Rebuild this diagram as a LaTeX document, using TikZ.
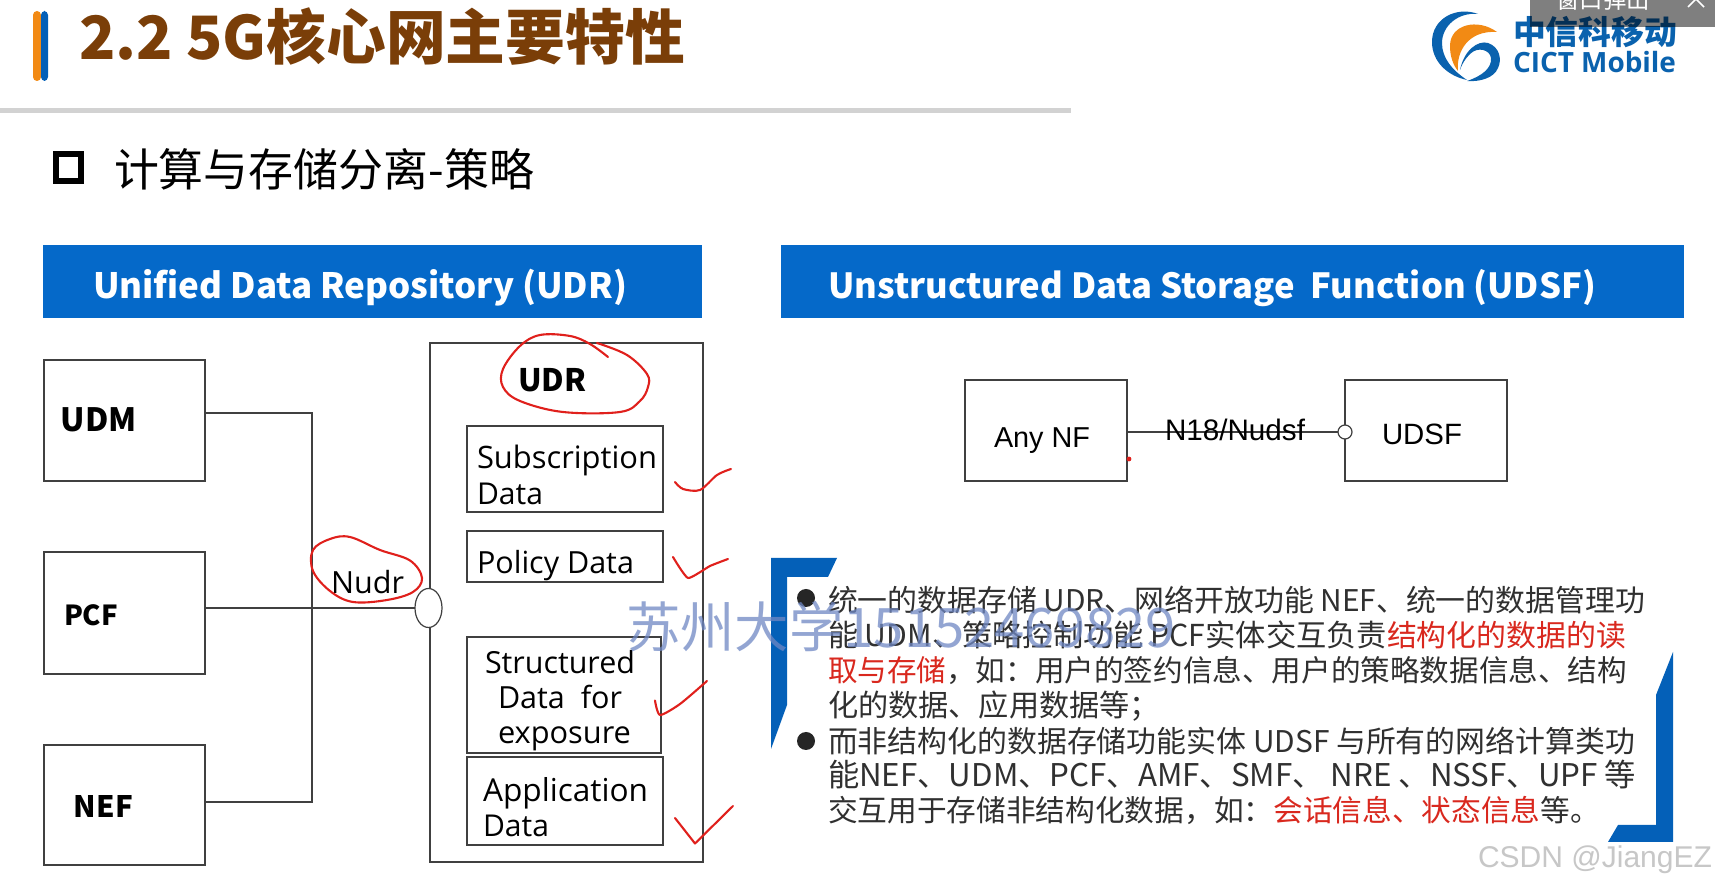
\documentclass[tikz,border=0pt]{standalone}
\usepackage{fontspec}
\setmainfont{Liberation Sans}
\newfontfamily\cjk{Noto Sans CJK SC}
\newfontfamily\opens{Open Sans}
\usetikzlibrary{calc,shapes.geometric}
\definecolor{hdrblue}{HTML}{0569C9}
\definecolor{brblue}{HTML}{0460B8}
\definecolor{titlebrown}{HTML}{7A3E08}
\definecolor{inkred}{HTML}{E0201C}
\definecolor{txtred}{HTML}{D9281E}
\definecolor{bodyink}{HTML}{303030}
\definecolor{linegray}{HTML}{404040}
\definecolor{logoblue}{HTML}{0A62AE}
\definecolor{logoorange}{HTML}{F28A14}
\definecolor{wmblue}{HTML}{6F88C4}
\newcommand\fitw[2]{\resizebox{#1pt}{!}{#2}}
% \pxbox{name}{x1}{y1}{x2}{y2}{style}
\newcommand\pxbox[6]{%
  \pgfmathsetmacro\bw{(#4-#2)/2}\pgfmathsetmacro\bh{(#5-#3)/2}%
  \pgfmathsetmacro\bx{(#2+#4)/2}\pgfmathsetmacro\by{(#3+#5)/2}%
  \node[#6,minimum width=\bw pt,minimum height=\bh pt] (#1) at (\bx,\by) {};}
\tikzset{
  framebox/.style={draw=linegray,line width=.8pt,fill=white,inner sep=0,outer sep=0},
  band/.style={fill=hdrblue,inner sep=0,outer sep=0},
  wire/.style={draw=linegray,line width=.7pt},
  lbl/.style={inner sep=0,outer sep=0,anchor=base west,text=black},
  clbl/.style={inner sep=0,outer sep=0,anchor=base,text=black},
  bodyline/.style={inner sep=0,outer sep=0,anchor=base west,text=bodyink,font=\cjk\fontsize{16.5pt}{16.5pt}\selectfont},
  ink/.style={draw=inkred,line width=1.05pt,line cap=round,line join=round},
  bracket/.style={fill=brblue,draw=none},
}
\begin{document}
\begin{tikzpicture}[x=0.5pt,y=-0.5pt]
\useasboundingbox (0,0) rectangle (1715,886);
\fill[white] (0,0) rectangle (1715,886);
% title
\fill[rounded corners=2pt,logoorange] (33,11) rectangle (41,81);
\fill[rounded corners=2pt,brblue] (41,11) rectangle (48,81);
\node[lbl,text=titlebrown,font=\cjk\bfseries\fontsize{30pt}{30pt}\selectfont] (title) at (79,60) {\fitw{303}{2.2 5G核心网主要特性}};
\fill[gray!35] (0,108) rectangle (1071,113);
\draw[black,line width=3pt] (55.5,154.5) rectangle (81,181.5);
\node[lbl,font=\cjk\fontsize{22pt}{22pt}\selectfont] (sub) at (114,187) {\fitw{210}{计算与存储分离-策略}};
% header bands
\pxbox{hudr}{43}{245}{702}{318}{band}
\pxbox{hudsf}{781}{245}{1684}{318}{band}
\node[lbl,text=white,font=\cjk\bfseries\fontsize{18pt}{18pt}\selectfont] (hudrt) at (93,299) {\fitw{267}{Unified Data Repository (UDR)}};
\node[lbl,text=white,font=\cjk\bfseries\fontsize{18pt}{18pt}\selectfont] (hudsft) at (828,299) {\fitw{384}{Unstructured Data Storage\ \ Function (UDSF)}};
% left diagram
\pxbox{udm}{44}{360}{205}{481}{framebox}
\pxbox{pcf}{44}{552}{205}{674}{framebox}
\pxbox{nef}{44}{745}{205}{865}{framebox}
\pxbox{udr}{430}{343}{703}{862}{framebox}
\pxbox{subd}{467}{426}{663}{512}{framebox}
\pxbox{pold}{467}{531}{663}{582}{framebox}
\pxbox{strd}{467}{637}{661}{753}{framebox}
\pxbox{appd}{467}{757}{663}{845}{framebox}
\node[draw=linegray,line width=.6pt,fill=white,ellipse,inner sep=0,outer sep=0,minimum width=13.5pt,minimum height=19.5pt] (nudrif) at (428.5,608) {};
\coordinate (bustop) at (312,413);
\coordinate (busbot) at (312,802);
\draw[wire] (udm.east |- bustop) -- (bustop) -- (busbot) -- (nef.east |- busbot);
\draw[wire] (pcf.east |- nudrif) -- (nudrif.west);
\node[lbl,font=\cjk\bfseries\fontsize{15.5pt}{15.5pt}\selectfont] (tudm) at (61,432) {\fitw{38}{UDM}};
\node[lbl,font=\cjk\bfseries\fontsize{15.5pt}{15.5pt}\selectfont] (tpcf) at (64,626) {\fitw{27}{PCF}};
\node[lbl,font=\cjk\bfseries\fontsize{15.5pt}{15.5pt}\selectfont] (tnef) at (74,818) {\fitw{29.5}{NEF}};
\node[lbl,font=\cjk\bfseries\fontsize{15.5pt}{15.5pt}\selectfont] (tudr) at (518,392) {UDR};
\node[lbl,font=\opens\fontsize{16pt}{16pt}\selectfont] (tnudr) at (331,594) {\fitw{36.5}{Nudr}};
\tikzset{small/.style={font=\opens\fontsize{16pt}{16pt}\selectfont}}
\node[lbl,small] (s1) at (477,469) {\fitw{90}{Subscription}};
\node[lbl,small] (s2) at (477,505) {\fitw{33}{Data}};
\node[lbl,small] (p1) at (477,574) {\fitw{78.5}{Policy Data}};
\node[lbl,small] (e1) at (485,674) {\fitw{75}{Structured}};
\node[lbl,small] (e2) at (498,709) {\fitw{62}{Data\ \ for}};
\node[lbl,small] (e3) at (498,744) {\fitw{66.5}{exposure}};
\node[lbl,small] (a1) at (483,802) {\fitw{82.5}{Application}};
\node[lbl,small] (a2) at (483,837) {\fitw{33}{Data}};
% right diagram
\pxbox{anynf}{965}{380}{1127}{481}{framebox}
\pxbox{udsf}{1345}{380}{1507}{481}{framebox}
\node[draw=linegray,line width=.6pt,fill=white,circle,inner sep=0,outer sep=0,minimum size=7pt] (udsfif) at (1345,432) {};
\draw[wire] (anynf.east |- udsfif) -- (udsfif.west);
\node[lbl,font=\fontsize{15.5pt}{15.5pt}\selectfont] (tany) at (994,448) {\fitw{48}{Any NF}};
\node[lbl,font=\fontsize{15.5pt}{15.5pt}\selectfont] (tudsf) at (1382,445) {\fitw{40}{UDSF}};
\node[lbl,font=\fontsize{15pt}{15pt}\selectfont] (tn18) at (1165,441) {\fitw{70}{N18/Nudsf}};
\fill[inkred] (1129,459) circle (1.2pt);
% brackets
\fill[bracket] (771,558) -- (837,558) -- (828,577) -- (787,577) -- (787,705) -- (771,749) -- cycle;
\fill[bracket] (1673,652) -- (1673,842) -- (1608,842) -- (1618,825) -- (1656,825) -- (1656,695) -- cycle;
% body text
\fill[black!85] (806,598) circle (4.5pt);
\fill[black!85] (806,741) circle (4.5pt);
\node[bodyline] (l1) at (828,612) {\fitw{408.5}{统一的数据存储 UDR、网络开放功能 NEF、统一的数据管理功}};
\node[bodyline] (l2a) at (828,647) {\fitw{279.5}{能 UDM、策略控制功能 PCF实体交互负责}};
\node[bodyline,text=txtred] (l2b) at (1387,647) {\fitw{119.5}{结构化的数据的读}};
\node[bodyline] (l3) at (828,682) {\fitw{399.5}{\textcolor{txtred}{取与存储}，如：用户的签约信息、用户的策略数据信息、结构}};
\node[bodyline] (l4) at (828,717) {\fitw{166}{化的数据、应用数据等；}};
\node[bodyline] (l5) at (828,753) {\fitw{403.5}{而非结构化的数据存储功能实体 UDSF 与所有的网络计算类功}};
\node[bodyline] (l6) at (828,787) {\fitw{404}{能NEF、UDM、PCF、AMF、SMF、 NRE 、NSSF、UPF 等}};
\node[bodyline] (l7) at (828,822) {\fitw{386}{交互用于存储非结构化数据，如：\textcolor{txtred}{会话信息、状态信息}等。}};
% handwriting
\draw[ink] plot[smooth,tension=.6] coordinates {(608,357) (590,344) (570,336) (540,335) (520,346) (503,369) (503,387) (520,401) (563,412) (620,412) (640,401) (648,387) (647,374) (627,355) (597,343)};
\draw[ink] plot[smooth cycle,tension=.6] coordinates {(313,550) (330,539) (350,537) (380,550) (410,560.5) (422,578) (413,592) (387,600) (353,602) (330,591) (313,571)};
\draw[ink] plot[smooth,tension=.5] coordinates {(675,482) (683,489) (700,490) (717,475) (731,469)};
\draw[ink] plot[smooth,tension=.3] coordinates {(673,557) (688,578) (710,566) (728,559)};
\draw[ink] plot[smooth,tension=.4] coordinates {(655,700.5) (660,715) (680,704) (707,681)};
\draw[ink] (675,818) -- (695,843.5) -- (733,806);
% logo
\fill[logoblue] (1478,14) .. controls (1457,6) and (1432,18) .. (1432,42) .. controls (1432,62) and (1448,76) .. (1467,80) .. controls (1452,70) and (1442,58) .. (1442,43) .. controls (1442,26) and (1458,12) .. (1478,14) -- cycle;
\fill[logoorange] (1497,32) .. controls (1478,18) and (1450,24) .. (1450,46) .. controls (1450,56) and (1453,65) .. (1458,71) .. controls (1456,52) and (1468,30) .. (1497,32) -- cycle;
\fill[logoblue] (1460,70) .. controls (1464,50) and (1478,40) .. (1488,43) .. controls (1500,47) and (1502,60) .. (1498,68) .. controls (1494,78) and (1480,82) .. (1467,81) .. controls (1482,76) and (1492,68) .. (1491,58) .. controls (1490,50) and (1478,46) .. (1470,54) .. controls (1465,59) and (1462,64) .. (1460,70) -- cycle;
\node[lbl,text=logoblue,font=\cjk\bfseries\fontsize{16pt}{16pt}\selectfont] (lg1) at (1513,45) {\fitw{82}{中信科移动}};
\node[lbl,text=logoblue,font=\opens\bfseries\fontsize{12pt}{12pt}\selectfont] (lg2) at (1513,73) {\fitw{81.5}{CICT Mobile}};
% window overlay
\begin{scope}
\clip (0,0) rectangle (1715,886);
\fill[black,opacity=.5] (1530,0) rectangle (1715,27);
\node[clbl,text=white,font=\cjk\fontsize{11.7pt}{11.7pt}\selectfont] (win) at (1603,9) {窗口弹出};
\draw[white,line width=.8pt] (1688,7) -- (1696,-1) -- (1704,7);
\end{scope}
% watermarks
\node[lbl,text=wmblue,text opacity=.75,font=\cjk\fontsize{25pt}{25pt}\selectfont] (wm) at (626,648) {\fitw{275}{苏州大学15152469829}};
\node[lbl,text=black!22,font=\fontsize{14pt}{14pt}\selectfont] (csdn) at (1478,868) {\fitw{117}{CSDN @JiangEZ}};
\end{tikzpicture}
\end{document}
